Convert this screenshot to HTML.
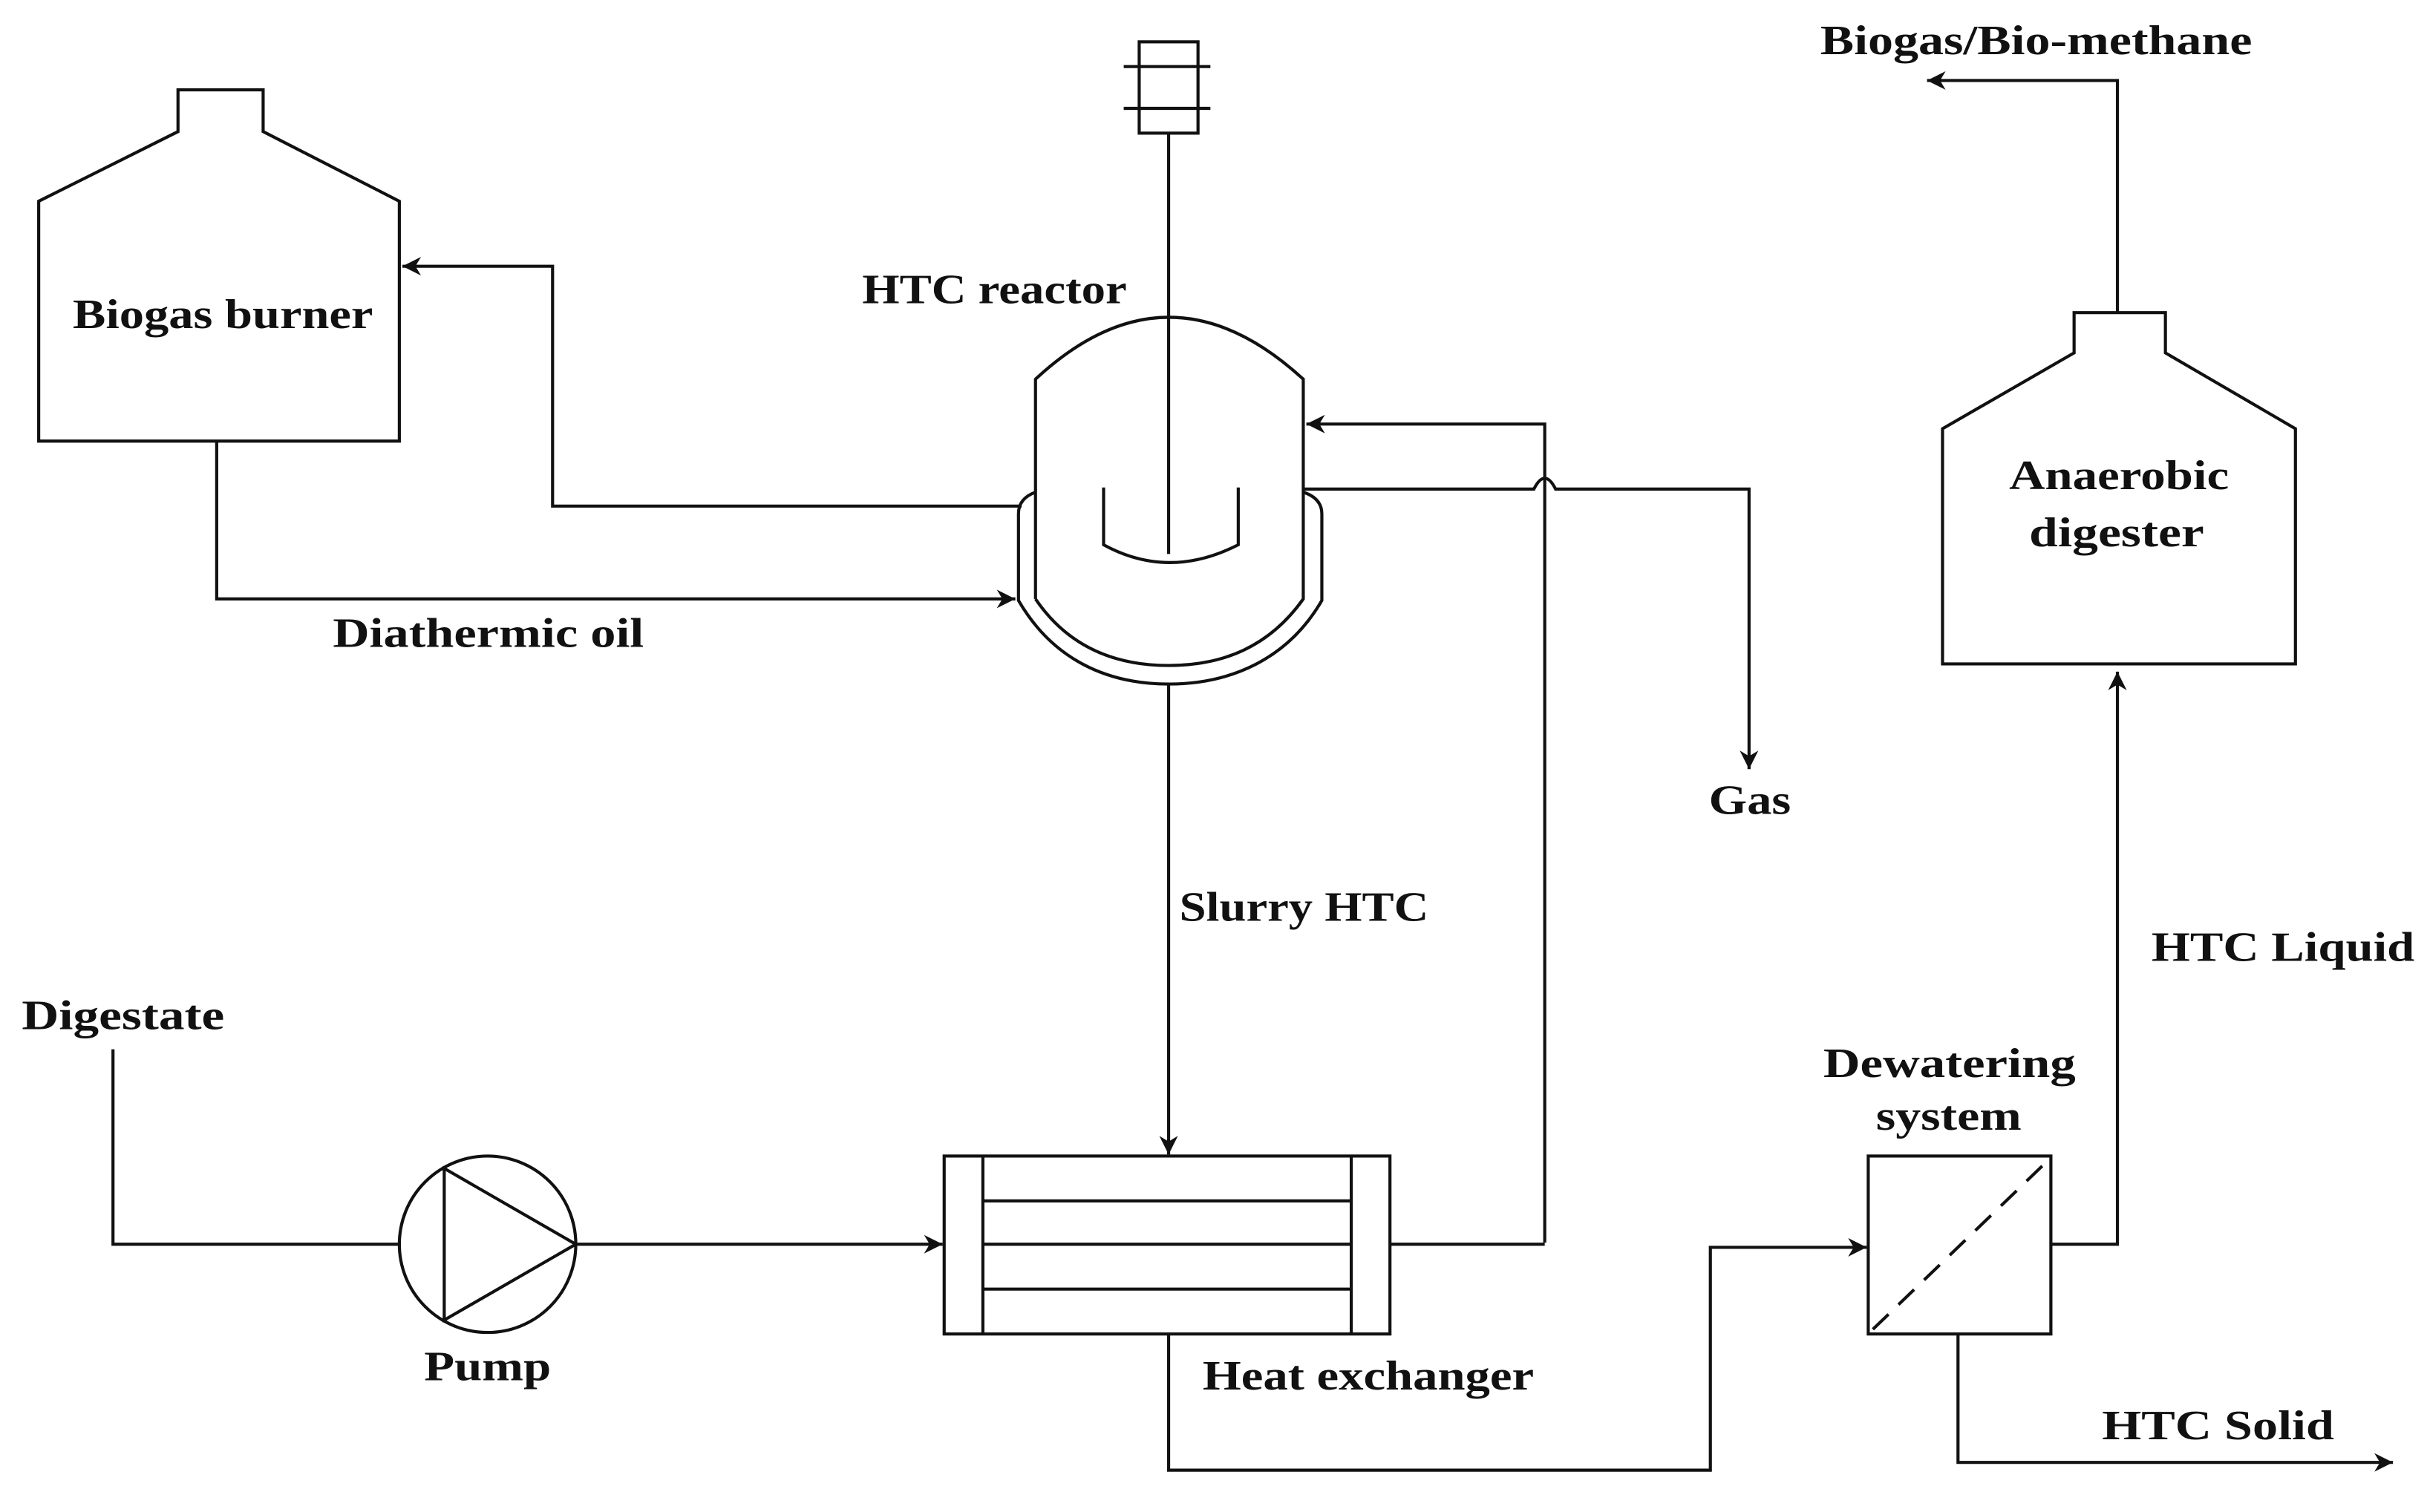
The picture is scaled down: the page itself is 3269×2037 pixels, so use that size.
<!DOCTYPE html>
<html><head><meta charset="utf-8"><style>
html,body{margin:0;padding:0;background:#fff;}
svg{display:block;}
text{font-family:"Liberation Serif",serif;font-weight:bold;font-size:27px;fill:#111;}
</style></head><body>
<svg width="3269" height="2037" viewBox="0 0 1568 977" xmlns="http://www.w3.org/2000/svg">
<defs>
<marker id="a" viewBox="0 0 10 10" refX="10" refY="5" markerWidth="12" markerHeight="12" orient="auto" markerUnits="userSpaceOnUse">
<path d="M0,0 L10,5 L0,10 L3,5 z" fill="#111"/></marker>
</defs>
<g fill="none" stroke="#111" stroke-width="2">
<path d="M115,85 V58 H170 V85 L258,130 V285 H25 V130 Z"/>
<path d="M660,327 H357 V172 H260" marker-end="url(#a)"/>
<path d="M140,285 V387 H656" marker-end="url(#a)"/>
<rect x="736" y="27" width="38" height="59"/>
<path d="M726,43 H782 M726,70 H782"/>
<path d="M755,86 V358"/>
<path d="M669,387 V245 Q755,165 842,245 V387 C820,418 790,430 755,430 C720,430 690,418 669,387"/>
<path d="M669,318 Q658,322 658,332 V388 C680,426 715,442 755,442 C795,442 832,426 854,388 V332 Q854,322 842,318"/>
<path d="M713,315 V352 Q755,375 800,352 V315"/>
<path d="M998,803 V274 H844" marker-end="url(#a)"/>
<path d="M842,316 H991 Q998,302 1005,316 H1130 V497" marker-end="url(#a)"/>
<path d="M755,442 V746" marker-end="url(#a)"/>
<rect x="610" y="747" width="288" height="115"/>
<path d="M635,747 V862 M873,747 V862 M635,776 H873 M635,804 H873 M635,833 H873"/>
<path d="M898,804 H998"/>
<circle cx="315" cy="804" r="57"/>
<path d="M287,755 V853 L372,804 Z"/>
<path d="M73,678 V804 H258"/>
<path d="M372,804 H609" marker-end="url(#a)"/>
<path d="M755,862 V950 H1105 V806 H1206" marker-end="url(#a)"/>
<rect x="1207" y="747" width="118" height="115"/>
<path d="M1210,859 L1323,750" stroke-dasharray="14,9"/>
<path d="M1325,804 H1368 V434" marker-end="url(#a)"/>
<path d="M1265,862 V945 H1546" marker-end="url(#a)"/>
<path d="M1340,228 V202 H1399 V228 L1483,277 V429 H1255 V277 Z"/>
<path d="M1368,202 V52 H1245" marker-end="url(#a)"/>
</g>
<text x="47" y="212" textLength="194" lengthAdjust="spacingAndGlyphs">Biogas burner</text>
<text x="557" y="196" textLength="171" lengthAdjust="spacingAndGlyphs">HTC reactor</text>
<text x="215" y="418" textLength="201" lengthAdjust="spacingAndGlyphs">Diathermic oil</text>
<text x="1104" y="526" textLength="53" lengthAdjust="spacingAndGlyphs">Gas</text>
<text x="762" y="595" textLength="161" lengthAdjust="spacingAndGlyphs">Slurry HTC</text>
<text x="14" y="665" textLength="131" lengthAdjust="spacingAndGlyphs">Digestate</text>
<text x="274" y="892" textLength="82" lengthAdjust="spacingAndGlyphs">Pump</text>
<text x="777" y="898" textLength="214" lengthAdjust="spacingAndGlyphs">Heat exchanger</text>
<text x="1178" y="696" textLength="163" lengthAdjust="spacingAndGlyphs">Dewatering</text>
<text x="1212" y="730" textLength="94" lengthAdjust="spacingAndGlyphs">system</text>
<text x="1390" y="621" textLength="170" lengthAdjust="spacingAndGlyphs">HTC Liquid</text>
<text x="1358" y="930" textLength="150" lengthAdjust="spacingAndGlyphs">HTC Solid</text>
<text x="1298" y="316" textLength="142" lengthAdjust="spacingAndGlyphs">Anaerobic</text>
<text x="1311" y="353" textLength="113" lengthAdjust="spacingAndGlyphs">digester</text>
<text x="1176" y="35" textLength="279" lengthAdjust="spacingAndGlyphs">Biogas/Bio-methane</text>
</svg>
</body></html>
